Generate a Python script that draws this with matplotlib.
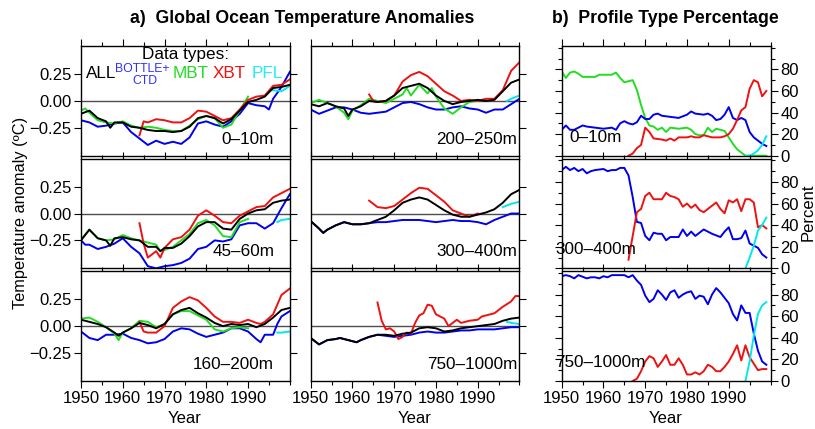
import numpy as np
import matplotlib.pyplot as plt
from matplotlib.ticker import MultipleLocator

plt.rcParams['font.family'] = ['Liberation Sans', 'DejaVu Sans']

C_ALL = 'black'
C_BOT = '#0000ee'
C_MBT = '#22dd22'
C_XBT = '#ee1111'
C_PFL = '#00e8ee'

# ---- a) temperature anomalies (year, degC) ----
all_0_10 = [(1950,-0.12),(1952,-0.09),(1954,-0.16),(1956,-0.19),(1957,-0.25),(1958,-0.20),(1960,-0.20),(1962,-0.24),(1964,-0.25),(1966,-0.27),(1968,-0.28),(1970,-0.28),(1972,-0.29),(1974,-0.28),(1976,-0.24),(1978,-0.16),(1980,-0.14),(1982,-0.16),(1984,-0.21),(1986,-0.17),(1988,-0.09),(1990,-0.01),(1992,0.01),(1994,0.04),(1996,0.12),(1998,0.13),(2000,0.15)]
bot_0_10 = [(1950,-0.18),(1952,-0.20),(1954,-0.24),(1956,-0.23),(1958,-0.21),(1960,-0.20),(1962,-0.29),(1964,-0.35),(1966,-0.41),(1968,-0.37),(1970,-0.40),(1972,-0.38),(1974,-0.40),(1976,-0.34),(1978,-0.21),(1980,-0.19),(1982,-0.22),(1984,-0.24),(1986,-0.19),(1988,-0.12),(1990,-0.02),(1992,-0.04),(1994,-0.05),(1995,-0.08),(1996,0.02),(1998,0.13),(2000,0.27)]
mbt_0_10 = [(1950,-0.09),(1951,-0.07),(1952,-0.11),(1954,-0.18),(1956,-0.20),(1958,-0.21),(1960,-0.19),(1962,-0.23),(1964,-0.25),(1966,-0.24),(1968,-0.25),(1970,-0.27),(1972,-0.28),(1974,-0.28),(1976,-0.23),(1978,-0.17),(1980,-0.14),(1982,-0.16),(1984,-0.25),(1986,-0.22),(1988,-0.09),(1990,0.04)]
xbt_0_10 = [(1964,-0.32),(1965,-0.19),(1966,-0.20),(1968,-0.17),(1970,-0.18),(1972,-0.20),(1974,-0.20),(1976,-0.16),(1978,-0.09),(1980,-0.10),(1982,-0.14),(1984,-0.18),(1986,-0.16),(1988,-0.08),(1990,0.01),(1992,0.04),(1994,0.05),(1996,0.14),(1998,0.15),(2000,0.20)]
pfl_0_10 = [(1996,0.10),(1998,0.09),(2000,0.14)]

all_200 = [(1950,-0.03),(1952,-0.05),(1954,-0.02),(1956,-0.05),(1958,-0.07),(1959,-0.14),(1960,-0.08),(1962,-0.05),(1964,0.00),(1966,-0.01),(1968,0.00),(1970,0.05),(1972,0.12),(1974,0.14),(1976,0.16),(1978,0.12),(1980,0.05),(1982,0.00),(1984,-0.03),(1986,-0.01),(1988,0.00),(1990,0.01),(1992,0.00),(1994,0.01),(1996,0.09),(1998,0.17),(2000,0.20)]
bot_200 = [(1950,-0.08),(1952,-0.12),(1954,-0.09),(1956,-0.06),(1958,-0.06),(1960,-0.08),(1962,-0.11),(1964,-0.12),(1966,-0.11),(1968,-0.10),(1970,-0.06),(1972,-0.02),(1974,-0.01),(1976,-0.03),(1978,-0.06),(1980,-0.08),(1982,-0.08),(1984,-0.06),(1986,-0.05),(1988,-0.07),(1990,-0.08),(1992,-0.11),(1994,-0.08),(1996,-0.08),(1998,-0.03),(2000,0.02)]
mbt_200 = [(1950,-0.02),(1952,0.01),(1954,-0.02),(1956,-0.05),(1958,-0.11),(1959,-0.17),(1960,-0.09),(1962,-0.04),(1964,0.02),(1966,0.00),(1968,-0.02),(1970,0.02),(1972,0.06),(1973,0.12),(1974,0.05),(1976,0.15),(1978,0.07),(1979,0.12),(1980,0.04),(1982,-0.07),(1984,-0.12),(1986,-0.06),(1988,-0.01),(1990,0.00)]
xbt_200 = [(1964,0.06),(1965,0.00),(1966,-0.01),(1968,0.00),(1970,0.05),(1972,0.18),(1974,0.24),(1976,0.27),(1978,0.23),(1980,0.16),(1982,0.09),(1984,0.05),(1986,0.00),(1988,0.01),(1990,0.00),(1992,0.02),(1994,0.02),(1996,0.10),(1998,0.28),(2000,0.36)]
pfl_200 = [(1997,0.00),(1998,0.02),(2000,0.05)]

all_45 = [(1950,-0.25),(1952,-0.15),(1954,-0.23),(1956,-0.25),(1957,-0.30),(1958,-0.23),(1960,-0.22),(1962,-0.24),(1964,-0.25),(1966,-0.31),(1968,-0.31),(1969,-0.35),(1970,-0.32),(1972,-0.32),(1974,-0.28),(1976,-0.21),(1978,-0.12),(1980,-0.08),(1982,-0.08),(1984,-0.14),(1986,-0.15),(1988,-0.05),(1990,0.00),(1992,0.03),(1994,0.04),(1996,0.10),(1998,0.12),(2000,0.13)]
bot_45 = [(1950,-0.25),(1951,-0.29),(1952,-0.29),(1954,-0.33),(1956,-0.31),(1958,-0.28),(1960,-0.23),(1962,-0.31),(1964,-0.37),(1966,-0.49),(1968,-0.51),(1970,-0.49),(1972,-0.48),(1974,-0.46),(1976,-0.42),(1978,-0.33),(1980,-0.31),(1982,-0.25),(1984,-0.26),(1986,-0.24),(1988,-0.11),(1990,-0.09),(1992,-0.09),(1994,-0.14),(1996,-0.09),(1998,0.05),(2000,0.18)]
mbt_45 = [(1950,-0.24),(1952,-0.15),(1954,-0.23),(1956,-0.25),(1958,-0.24),(1960,-0.20),(1962,-0.23),(1964,-0.25),(1966,-0.27),(1968,-0.29),(1969,-0.35),(1970,-0.34),(1972,-0.31),(1974,-0.25),(1976,-0.19),(1978,-0.09),(1980,-0.06),(1982,-0.11),(1984,-0.21),(1986,-0.22),(1988,-0.08),(1990,-0.05)]
xbt_45 = [(1964,-0.09),(1965,-0.28),(1966,-0.41),(1968,-0.35),(1969,-0.41),(1970,-0.32),(1972,-0.24),(1974,-0.22),(1976,-0.15),(1978,-0.02),(1980,0.03),(1982,-0.02),(1984,-0.08),(1986,-0.09),(1988,-0.02),(1990,0.02),(1992,0.06),(1994,0.07),(1996,0.15),(1998,0.19),(2000,0.23)]
pfl_45 = [(1997,-0.08),(1998,-0.06),(2000,-0.05)]

all_300 = [(1950,-0.07),(1952,-0.14),(1953,-0.18),(1954,-0.15),(1956,-0.11),(1958,-0.08),(1960,-0.10),(1962,-0.10),(1964,-0.09),(1966,-0.06),(1968,-0.03),(1970,0.03),(1972,0.10),(1974,0.13),(1976,0.15),(1978,0.13),(1980,0.08),(1982,0.03),(1984,-0.01),(1986,-0.03),(1988,-0.03),(1990,-0.01),(1992,0.01),(1994,0.04),(1996,0.10),(1998,0.18),(2000,0.22)]
bot_300 = [(1950,-0.07),(1952,-0.14),(1953,-0.18),(1954,-0.15),(1956,-0.11),(1958,-0.08),(1960,-0.10),(1962,-0.10),(1964,-0.09),(1966,-0.08),(1968,-0.08),(1970,-0.07),(1972,-0.06),(1974,-0.06),(1976,-0.06),(1978,-0.07),(1980,-0.08),(1982,-0.07),(1984,-0.06),(1986,-0.07),(1988,-0.07),(1990,-0.08),(1992,-0.10),(1994,-0.06),(1996,-0.03),(1998,0.00),(2000,0.00)]
xbt_300 = [(1964,0.12),(1966,0.06),(1968,0.05),(1970,0.07),(1972,0.13),(1974,0.19),(1976,0.24),(1978,0.23),(1980,0.17),(1982,0.11),(1984,0.03),(1986,0.00),(1988,-0.03),(1990,0.00)]
pfl_300 = [(1996,0.06),(1998,0.09),(2000,0.11)]

all_160 = [(1950,0.06),(1952,0.04),(1954,0.02),(1956,-0.01),(1958,-0.06),(1959,-0.09),(1960,-0.06),(1962,-0.02),(1964,0.03),(1966,0.01),(1968,-0.02),(1970,0.02),(1972,0.11),(1974,0.15),(1976,0.17),(1978,0.12),(1980,0.08),(1982,0.03),(1984,0.00),(1986,0.02),(1988,0.01),(1990,0.02),(1992,-0.01),(1994,0.02),(1996,0.08),(1998,0.15),(2000,0.17)]
bot_160 = [(1950,-0.05),(1952,-0.11),(1954,-0.13),(1956,-0.08),(1958,-0.08),(1960,-0.07),(1962,-0.11),(1964,-0.13),(1966,-0.16),(1968,-0.15),(1970,-0.12),(1972,-0.05),(1974,-0.02),(1976,-0.03),(1978,-0.07),(1980,-0.10),(1982,-0.08),(1984,-0.06),(1986,-0.02),(1988,-0.02),(1990,-0.05),(1992,-0.12),(1993,-0.15),(1994,-0.08),(1996,-0.08),(1997,0.02),(1998,0.09),(2000,0.14)]
mbt_160 = [(1950,0.07),(1952,0.08),(1954,0.04),(1956,-0.01),(1958,-0.07),(1959,-0.13),(1960,-0.06),(1962,-0.02),(1964,0.05),(1966,0.04),(1968,-0.01),(1970,0.02),(1972,0.11),(1974,0.14),(1976,0.14),(1978,0.10),(1980,0.06),(1982,-0.03),(1984,-0.05),(1986,-0.02),(1988,-0.01),(1990,-0.02)]
xbt_160 = [(1964,0.04),(1965,-0.05),(1966,-0.06),(1968,-0.06),(1970,0.00),(1972,0.17),(1974,0.23),(1976,0.27),(1978,0.24),(1980,0.17),(1982,0.09),(1984,0.04),(1986,0.04),(1988,0.03),(1990,0.06),(1992,0.03),(1993,0.02),(1994,0.04),(1996,0.11),(1998,0.29),(2000,0.35)]
pfl_160 = [(1997,-0.06),(1998,-0.06),(2000,-0.05)]

all_750 = [(1950,-0.11),(1952,-0.17),(1954,-0.13),(1956,-0.12),(1957,-0.11),(1958,-0.12),(1960,-0.14),(1961,-0.15),(1962,-0.13),(1964,-0.10),(1966,-0.08),(1968,-0.08),(1970,-0.09),(1972,-0.07),(1974,-0.06),(1976,-0.02),(1978,-0.01),(1980,-0.02),(1982,-0.05),(1984,-0.04),(1986,-0.02),(1988,-0.01),(1990,0.00),(1992,0.01),(1994,0.02),(1996,0.05),(1998,0.07),(2000,0.08)]
bot_750 = [(1950,-0.11),(1952,-0.17),(1954,-0.13),(1956,-0.12),(1957,-0.11),(1958,-0.12),(1960,-0.14),(1961,-0.15),(1962,-0.13),(1964,-0.10),(1966,-0.08),(1968,-0.09),(1970,-0.10),(1972,-0.09),(1974,-0.08),(1976,-0.06),(1978,-0.05),(1980,-0.06),(1982,-0.06),(1984,-0.05),(1986,-0.04),(1988,-0.04),(1990,-0.03),(1992,-0.03),(1994,-0.03),(1996,-0.02),(1998,-0.01),(2000,-0.01)]
xbt_750 = [(1966,0.22),(1967,0.05),(1968,-0.03),(1969,-0.02),(1970,-0.05),(1971,-0.12),(1972,-0.10),(1973,-0.06),(1974,-0.07),(1975,0.03),(1976,0.10),(1977,0.12),(1978,0.20),(1979,0.19),(1980,0.11),(1982,0.07),(1983,0.00),(1984,0.03),(1985,0.06),(1986,0.03),(1988,0.05),(1990,0.06),(1991,0.09),(1992,0.10),(1994,0.12),(1996,0.18),(1998,0.23),(1999,0.28),(2000,0.28)]
pfl_750 = [(1997,0.04),(1998,0.03),(2000,0.02)]

# ---- b) profile type percentage (year, %) ----
mbt_b0 = [(1950,78),(1951,72),(1952,77),(1953,78),(1954,76),(1955,73),(1956,73),(1958,73),(1959,75),(1960,75),(1962,75),(1963,77),(1964,72),(1965,68),(1966,69),(1967,70),(1968,61),(1969,47),(1970,35),(1971,28),(1972,27),(1973,24),(1974,26),(1975,22),(1976,26),(1978,25),(1980,26),(1981,24),(1982,20),(1983,19),(1984,19),(1985,26),(1986,22),(1987,25),(1988,24),(1989,23),(1990,17),(1991,11),(1992,6),(1993,3),(1994,0),(1996,0),(1998,0),(1999,0)]
bot_b0 = [(1950,24),(1951,28),(1952,24),(1953,24),(1954,26),(1955,28),(1956,27),(1958,26),(1960,25),(1962,26),(1963,24),(1964,30),(1965,32),(1966,30),(1967,29),(1968,31),(1969,37),(1970,34),(1971,34),(1972,38),(1973,39),(1974,37),(1976,36),(1978,35),(1980,38),(1981,41),(1982,39),(1984,38),(1985,39),(1986,37),(1987,33),(1988,34),(1989,38),(1990,45),(1991,35),(1992,33),(1993,35),(1994,33),(1995,22),(1996,17),(1997,14),(1998,11),(1999,9)]
xbt_b0 = [(1966,0),(1967,2),(1968,7),(1969,10),(1970,26),(1971,22),(1972,16),(1974,15),(1975,14),(1976,16),(1977,14),(1978,17),(1979,17),(1980,17),(1981,18),(1982,17),(1983,17),(1984,19),(1985,18),(1986,17),(1987,17),(1988,17),(1989,18),(1990,20),(1991,25),(1992,33),(1993,42),(1994,45),(1995,62),(1996,70),(1997,68),(1998,55),(1999,60)]
pfl_b0 = [(1994,0),(1995,0),(1996,2),(1997,5),(1998,10),(1999,18)]

bot_b300 = [(1950,91),(1951,94),(1952,91),(1953,93),(1954,90),(1955,92),(1956,88),(1957,90),(1958,91),(1960,92),(1961,90),(1962,91),(1963,91),(1964,93),(1965,93),(1966,86),(1967,66),(1968,43),(1969,42),(1970,30),(1971,26),(1972,33),(1973,32),(1974,32),(1975,26),(1976,29),(1978,29),(1979,36),(1980,30),(1981,34),(1982,30),(1983,33),(1984,36),(1986,32),(1988,29),(1989,34),(1990,38),(1991,27),(1992,27),(1993,28),(1994,35),(1995,23),(1996,21),(1997,19),(1998,13),(1999,10)]
xbt_b300 = [(1966,8),(1968,52),(1969,55),(1970,67),(1971,70),(1972,64),(1974,64),(1975,70),(1976,67),(1977,66),(1978,64),(1979,57),(1980,60),(1981,56),(1982,59),(1983,54),(1984,52),(1986,58),(1987,61),(1988,55),(1989,51),(1990,63),(1991,61),(1992,64),(1993,53),(1994,64),(1995,64),(1996,61),(1997,38),(1998,40),(1999,37)]
pfl_b300 = [(1994,0),(1995,10),(1996,21),(1997,35),(1998,40),(1999,47)]

bot_b750 = [(1950,97),(1951,98),(1952,97),(1953,95),(1954,98),(1956,95),(1957,96),(1958,96),(1959,95),(1960,97),(1961,96),(1962,98),(1964,98),(1965,98),(1966,96),(1967,98),(1968,93),(1969,89),(1970,79),(1971,73),(1972,76),(1973,84),(1974,80),(1975,75),(1976,82),(1977,84),(1978,77),(1979,80),(1980,82),(1981,83),(1982,76),(1983,79),(1984,78),(1985,71),(1986,80),(1987,86),(1988,82),(1989,77),(1990,72),(1991,62),(1992,56),(1993,70),(1994,63),(1995,63),(1996,44),(1997,28),(1998,18),(1999,15)]
xbt_b750 = [(1967,0),(1968,2),(1969,9),(1970,18),(1971,23),(1972,21),(1973,13),(1974,18),(1975,24),(1976,15),(1977,15),(1978,21),(1979,15),(1980,6),(1981,6),(1982,8),(1983,6),(1984,9),(1985,15),(1986,13),(1987,9),(1988,9),(1989,13),(1990,18),(1991,25),(1992,33),(1993,19),(1994,33),(1995,22),(1996,16),(1997,10),(1998,11),(1999,11)]
pfl_b750 = [(1994,0),(1995,18),(1996,42),(1997,62),(1998,70),(1999,73)]

depth_labels = ['0\u201310m', '200\u2013250m', '45\u201360m', '300\u2013400m', '160\u2013200m', '750\u20131000m']
b_labels = ['0\u201310m', '300\u2013400m', '750\u20131000m']

panels_a = [
    [bot_0_10, mbt_0_10, xbt_0_10, pfl_0_10, all_0_10],
    [bot_200, mbt_200, xbt_200, pfl_200, all_200],
    [bot_45, mbt_45, xbt_45, pfl_45, all_45],
    [bot_300, None, xbt_300, pfl_300, all_300],
    [bot_160, mbt_160, xbt_160, pfl_160, all_160],
    [bot_750, None, xbt_750, pfl_750, all_750],
]
colors_a = [C_BOT, C_MBT, C_XBT, C_PFL, C_ALL]

panels_b = [
    [mbt_b0, bot_b0, xbt_b0, pfl_b0],
    [None, bot_b300, xbt_b300, pfl_b300],
    [None, bot_b750, xbt_b750, pfl_b750],
]
colors_b = [C_MBT, C_BOT, C_XBT, C_PFL]

fig = plt.figure(figsize=(8.15, 4.29), dpi=100)

col_x = [0.0994, 0.3812, 0.6892]
col_w = 0.2562
row_y = [0.637, 0.3745, 0.112]
row_h = 0.2555

TICK = 12
LBL = 12.3


def style_axis(ax):
    ax.set_xlim(1950, 2000)
    ax.xaxis.set_major_locator(MultipleLocator(10))
    ax.xaxis.set_minor_locator(MultipleLocator(5))
    ax.tick_params(which='both', direction='out', top=True, width=0.8, labelsize=TICK, pad=2)
    ax.tick_params(which='major', length=5)
    ax.tick_params(which='minor', length=3)
    ax.set_xticks([1950, 1960, 1970, 1980, 1990])
    for s in ax.spines.values():
        s.set_linewidth(1.0)


for i in range(6):
    r, c = i // 2, i % 2
    ax = fig.add_axes([col_x[c], row_y[r], col_w, row_h])
    style_axis(ax)
    ax.set_ylim(-0.51, 0.51)
    ax.set_yticks([-0.25, 0.0, 0.25])
    ax.set_yticklabels(['\u22120.25', '0.00', '0.25'])
    ax.axhline(0, color='0.3', lw=1.0, zorder=1)
    for series, col in zip(panels_a[i], colors_a):
        if series is None:
            continue
        xy = np.array(series)
        ax.plot(xy[:, 0], xy[:, 1], color=col, lw=1.4, zorder=2)
    ax.tick_params(axis='y', right=True, left=(c == 0), labelleft=(c == 0))
    if r < 2:
        ax.tick_params(axis='x', labelbottom=False)
    ax.text(0.99 if c == 1 else 0.925, 0.15, depth_labels[i], transform=ax.transAxes,
            ha='right', va='center', fontsize=LBL)
    if i == 0:
        # data-type key written as coloured words
        ax.text(0.5, 0.925, 'Data types:', transform=ax.transAxes, ha='center', va='center', fontsize=12.3)
        yb = 0.705
        ax.text(0.025, yb, 'ALL', color=C_ALL, transform=ax.transAxes, ha='left', va='baseline', fontsize=12.3)
        ax.text(0.163, 0.768, 'BOTTLE+', color='#3030ff', transform=ax.transAxes, ha='left', va='baseline', fontsize=8.8)
        ax.text(0.245, 0.655, 'CTD', color='#3030ff', transform=ax.transAxes, ha='left', va='baseline', fontsize=8.8)
        ax.text(0.44, yb, 'MBT', color=C_MBT, transform=ax.transAxes, ha='left', va='baseline', fontsize=12.3)
        ax.text(0.632, yb, 'XBT', color=C_XBT, transform=ax.transAxes, ha='left', va='baseline', fontsize=12.3)
        ax.text(0.818, yb, 'PFL', color='#22f0f0', transform=ax.transAxes, ha='left', va='baseline', fontsize=12.3)

for r in range(3):
    ax = fig.add_axes([col_x[2], row_y[r], col_w, row_h])
    style_axis(ax)
    ax.set_ylim(0, 101.5)
    ax.yaxis.set_major_locator(MultipleLocator(20))
    ax.yaxis.set_minor_locator(MultipleLocator(10))
    ax.set_yticks([0, 20, 40, 60, 80])
    ax.tick_params(axis='y', which='both', left=True, right=True, labelleft=False, labelright=True)
    for series, col in zip(panels_b[r], colors_b):
        if series is None:
            continue
        xy = np.array(series)
        ax.plot(xy[:, 0], xy[:, 1], color=col, lw=1.4, zorder=2)
    if r < 2:
        ax.tick_params(axis='x', labelbottom=False)
    ax.text(0.035 if r == 0 else -0.03, 0.17, b_labels[r], transform=ax.transAxes,
            ha='left', va='center', fontsize=LBL)

fig.text(0.371, 0.958, 'a)  Global Ocean Temperature Anomalies', ha='center', va='center',
         fontsize=12.7, fontweight='bold')
fig.text(0.817, 0.958, 'b)  Profile Type Percentage', ha='center', va='center',
         fontsize=12.7, fontweight='bold')
fig.text(0.025, 0.503, 'Temperature anomaly (\u00baC)', rotation=90, ha='center', va='center', fontsize=11.8)
fig.text(0.991, 0.506, 'Percent', rotation=90, ha='center', va='center', fontsize=12)
for xc in [0.227, 0.509, 0.817]:
    fig.text(xc, 0.025, 'Year', ha='center', va='center', fontsize=12)

fig.savefig('out.png', dpi=100)
